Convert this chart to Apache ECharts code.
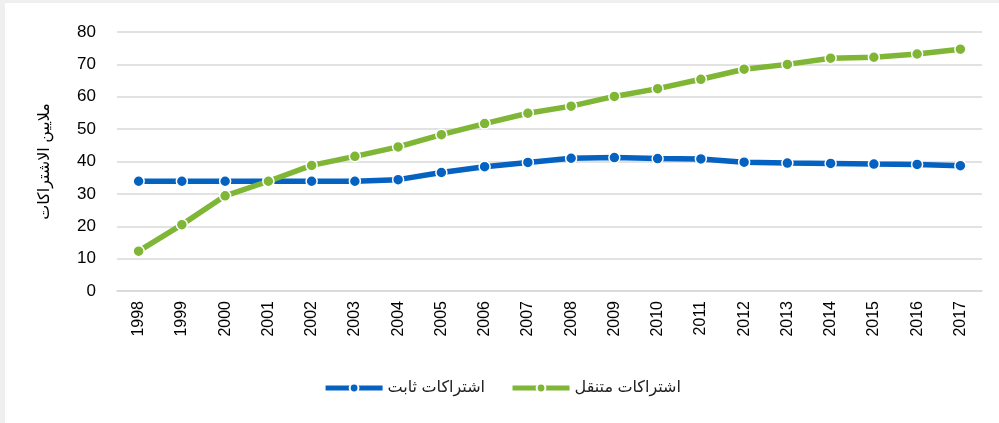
<!DOCTYPE html>
<html>
<head>
<meta charset="utf-8">
<script src="https://cdn.jsdelivr.net/npm/echarts@6/dist/echarts.min.js"></script>
<style>
  html, body { margin: 0; padding: 0; background: #efefef; }
  #chart { position: absolute; left: 5px; top: 3px; width: 994px; height: 420px; background: #fff; }
</style>
</head>
<body>
<div id="chart"></div>
<script>
const years = ['1998', '1999', '2000', '2001', '2002', '2003', '2004', '2005', '2006', '2007',
  '2008', '2009', '2010', '2011', '2012', '2013', '2014', '2015', '2016', '2017']

// ملايين الاشتراكات
const fixedSubs = [33.9, 33.9, 33.9, 33.9, 33.9, 33.9, 34.4, 36.6, 38.4, 39.7,
  41.0, 41.2, 40.9, 40.8, 39.8, 39.5, 39.4, 39.2, 39.1, 38.7]
const mobileSubs = [12.3, 20.5, 29.4, 33.9, 38.8, 41.6, 44.5, 48.3, 51.7, 54.9,
  57.1, 60.1, 62.5, 65.4, 68.5, 70.0, 71.9, 72.2, 73.2, 74.7]

const yTicks = { min: 0, max: 80, interval: 10 }

const names = { fixed: 'اشتراكات ثابت', mobile: 'اشتراكات متنقل' }
const colors = { fixed: '#0562c1', mobile: '#7fb636' }

const font = "'Liberation Sans', 'DejaVu Sans', sans-serif"

function lineSeries(name, data, color) {
  return {
    name: name,
    type: 'line',
    data: data,
    symbol: 'circle',
    symbolSize: 11,
    showSymbol: true,
    lineStyle: { color: color, width: 5.5 },
    itemStyle: { color: color, borderColor: '#fff', borderWidth: 1.5 },
    emphasis: { disabled: true },
    z: name === names.mobile ? 3 : 2
  }
}

const chart = echarts.init(document.getElementById('chart'))
chart.setOption({
  animation: false,
  textStyle: { fontFamily: font },
  grid: { left: 112, right: 17, top: 29, bottom: 132, containLabel: false },
  legend: {
    bottom: 22,
    left: 'center',
    itemWidth: 57,
    itemHeight: 11,
    itemGap: 25,
    lineStyle: { width: 5 },
    textStyle: { fontSize: 16, color: '#222', fontFamily: font },
    data: [names.fixed, names.mobile]
  },
  xAxis: {
    type: 'category',
    data: years,
    boundaryGap: true,
    axisLine: { show: true, lineStyle: { color: '#d9d9d9', width: 1.5 } },
    axisTick: { show: false },
    axisLabel: { rotate: 90, fontSize: 16, color: '#000', margin: 10 }
  },
  yAxis: {
    type: 'value',
    min: yTicks.min,
    max: yTicks.max,
    interval: yTicks.interval,
    name: 'ملايين الاشتراكات',
    nameLocation: 'middle',
    nameRotate: 90,
    nameGap: 64,
    nameTextStyle: { fontSize: 16, color: '#000' },
    axisLine: { show: false },
    axisTick: { show: false },
    axisLabel: { fontSize: 17, color: '#000', margin: 21 },
    splitLine: { lineStyle: { color: '#d9d9d9', width: 1.5 } }
  },
  series: [
    lineSeries(names.fixed, fixedSubs, colors.fixed),
    lineSeries(names.mobile, mobileSubs, colors.mobile)
  ]
})
</script>
</body>
</html>
